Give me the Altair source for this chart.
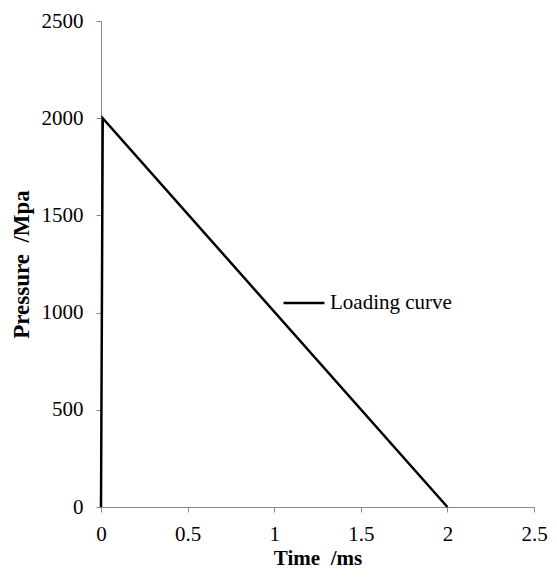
import altair as alt
import pandas as pd

time_ms = [0.0, 0.01, 2.0]
pressure_mpa = [0, 2000, 0]
series = ["Loading curve"] * 3

df = pd.DataFrame({"Time": time_ms, "Pressure": pressure_mpa, "Series": series})

FONT = "Liberation Serif"

chart = alt.Chart(df).mark_line(strokeWidth=2.5).encode(
    x=alt.X("Time:Q", title="Time \u00a0/ms",
            scale=alt.Scale(domain=[0, 2.5], nice=False, zero=False),
            axis=alt.Axis(values=[0, 0.5, 1, 1.5, 2, 2.5], format="~g",
                          labelFlush=False, labelPadding=11, titlePadding=3)),
    y=alt.Y("Pressure:Q", title="Pressure \u00a0/Mpa",
            scale=alt.Scale(domain=[0, 2500], nice=False),
            axis=alt.Axis(values=[0, 500, 1000, 1500, 2000, 2500], format="d",
                          labelFlush=False, labelPadding=13, titlePadding=8,
                          titleFontSize=23)),
    color=alt.Color("Series:N", scale=alt.Scale(range=["black"]),
                    legend=alt.Legend(title=None, orient="none", legendX=181, legendY=260,
                                      symbolType="stroke", symbolSize=1681,
                                      symbolStrokeWidth=2.5, symbolStrokeColor="black",
                                      labelOffset=4, padding=0,
                                      labelFont=FONT, labelFontSize=21,
                                      labelColor="black")),
    order=alt.Order("Time:Q"),
).properties(
    width=433, height=486,
    background="white",
    autosize=alt.AutoSizeParams(type="none"),
    padding={"left": 101, "top": 21, "right": 23, "bottom": 78},
).configure_view(stroke=None).configure_axis(
    grid=False,
    domainColor="#888888", tickColor="#888888", tickSize=5,
    labelFont=FONT, labelFontSize=21, labelColor="black",
    titleFont=FONT, titleFontSize=21, titleFontWeight="bold", titleColor="black",
)

chart.save("out.html", embed_options={"renderer": "svg", "actions": False})
